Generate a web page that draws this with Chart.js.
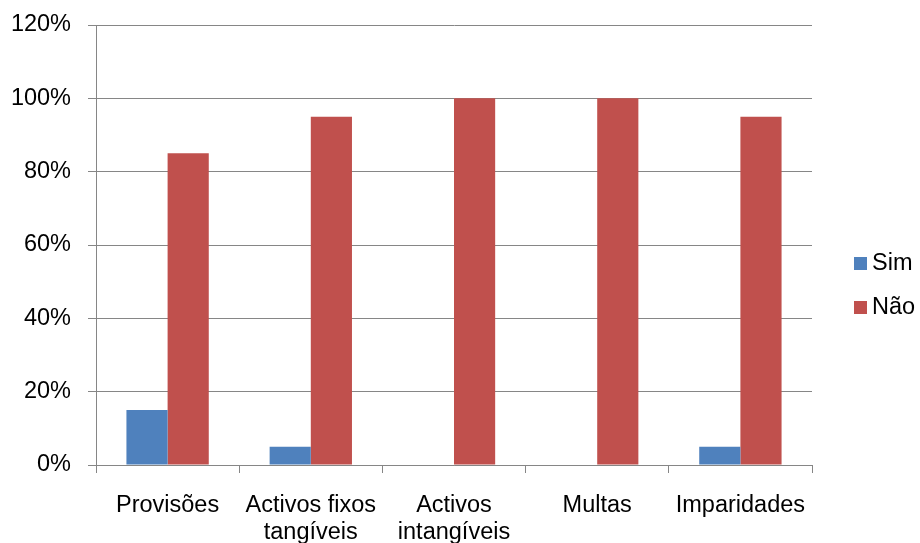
<!DOCTYPE html>
<html>
<head>
<meta charset="utf-8">
<script src="https://cdn.jsdelivr.net/npm/chart.js@4/dist/chart.umd.min.js"></script>
<style>
  html, body { margin: 0; padding: 0; background: #ffffff; }
  #wrap { width: 920px; height: 543px; }
</style>
</head>
<body>
<div id="wrap"><canvas id="c" width="920" height="543"></canvas></div>
<script>
// Categories (multi-line labels as arrays)
const categories = [
  'Provisões',
  ['Activos fixos', 'tangíveis'],
  ['Activos', 'intangíveis'],
  'Multas',
  'Imparidades'
];
// Share of answers, in percent
const simValues = [15, 5, 0, 0, 5];
const naoValues = [85, 95, 100, 100, 95];
const seriesNames = ['Sim', 'Não'];
const seriesColors = ['#4F81BD', '#C0504D'];
const yTicks = [0, 20, 40, 60, 80, 100, 120];

const gridGray = '#868686';
const fontFamily = '"Liberation Sans", Arial, sans-serif';
const fontSize = 23.5;

// Legend on the right: small square swatch followed by the series name
const sideLegend = {
  id: 'sideLegend',
  afterDraw(chart) {
    const ctx = chart.ctx;
    const area = chart.chartArea;
    const x0 = area.right + 42;
    const midY = (area.top + area.bottom) / 2;
    const rowGap = 44;
    const n = chart.data.datasets.length;
    const startY = midY + 40 - ((n - 1) * rowGap) / 2;
    ctx.save();
    ctx.font = fontSize + 'px ' + fontFamily;
    ctx.textBaseline = 'middle';
    ctx.textAlign = 'left';
    chart.data.datasets.forEach((ds, i) => {
      const y = Math.round(startY + i * rowGap);
      ctx.fillStyle = ds.backgroundColor;
      ctx.fillRect(x0, y - 6, 13, 13);
      ctx.fillStyle = '#000000';
      ctx.fillText(ds.label, x0 + 18, y + 1);
    });
    ctx.restore();
  }
};

new Chart(document.getElementById('c'), {
  type: 'bar',
  data: {
    labels: categories,
    datasets: [
      { label: seriesNames[0], data: simValues, backgroundColor: seriesColors[0], borderWidth: 0 },
      { label: seriesNames[1], data: naoValues, backgroundColor: seriesColors[1], borderWidth: 0 }
    ]
  },
  options: {
    responsive: false,
    animation: false,
    layout: { padding: { top: 25, right: 108, bottom: 0, left: 0 } },
    datasets: { bar: { categoryPercentage: 0.575, barPercentage: 1.0 } },
    plugins: {
      tooltip: { enabled: false },
      legend: { display: false }
    },
    scales: {
      x: {
        offset: true,
        afterFit: (axis) => { axis.height = 78; axis.paddingLeft = 0; axis.paddingRight = 0; },
        grid: {
          display: true,
          drawOnChartArea: false,
          drawTicks: true,
          tickLength: 8,
          color: gridGray,
          offset: true
        },
        border: { color: gridGray, width: 1 },
        ticks: {
          color: '#000000',
          font: { family: fontFamily, size: fontSize, lineHeight: 1.15 },
          padding: 19,
          maxRotation: 0,
          autoSkip: false
        }
      },
      y: {
        min: 0,
        max: 120,
        afterFit: (axis) => { axis.width = 96; axis.paddingTop = 0; axis.paddingBottom = 0; },
        afterBuildTicks: (axis) => { axis.ticks = yTicks.map(v => ({ value: v })); },
        grid: {
          color: gridGray,
          lineWidth: 1,
          tickLength: 8,
          drawTicks: true
        },
        border: { color: gridGray, width: 1 },
        ticks: {
          color: '#000000',
          font: { family: fontFamily, size: fontSize },
          padding: 17,
          callback: (v) => v + '%'
        }
      }
    }
  },
  plugins: [sideLegend]
});
</script>
</body>
</html>
